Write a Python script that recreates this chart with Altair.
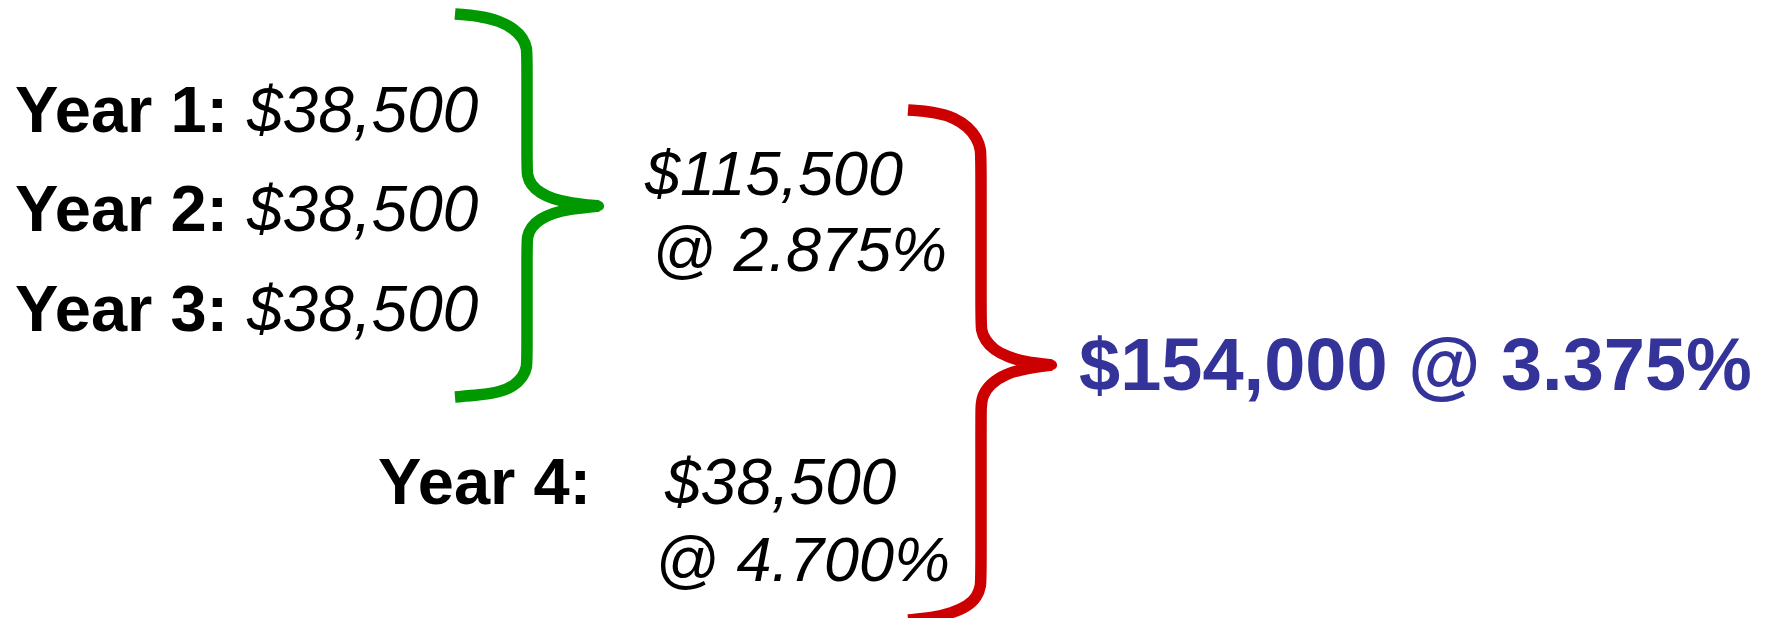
import altair as alt
import pandas as pd

# ---- text content (positions in picture pixels) ----
year_labels = ["Year 1:", "Year 2:", "Year 3:", "Year 4:"]
year_x = [15, 15, 15, 378]
year_y = [132, 231, 331, 504]

amounts = ["$38,500", "$38,500", "$38,500", "$38,500"]
amount_x = [247, 247, 247, 665]
amount_y = [132, 231, 331, 504]

sub_texts = ["$115,500", "@ 2.875%", "@ 4.700%"]
sub_x = [645, 652, 655]
sub_y = [195, 271, 581]

total_text = ["$154,000 @ 3.375%"]
total_x = [1079]
total_y = [390]

# ---- brace outlines (key points, picture pixels) ----
green_upper_x = [455, 480, 500, 514, 523, 527, 527, 527, 527, 531, 540, 553, 570, 599]
green_upper_y = [14, 16, 21, 29, 38, 48, 60, 165, 175, 185, 193, 199, 203, 206]
green_lower_x = [599, 570, 553, 540, 531, 527, 527, 527, 527, 523, 514, 500, 480, 455]
green_lower_y = [206, 209, 213, 219, 227, 237, 247, 357, 367, 377, 386, 392, 395, 397]

red_upper_x = [908, 935, 955, 968, 977, 981, 981, 981, 981, 985, 994, 1008, 1025, 1052]
red_upper_y = [110, 112, 118, 127, 138, 150, 162, 318, 330, 340, 350, 357, 362, 365]
red_lower_x = [1052, 1027, 1005, 990, 982, 981, 981, 981, 981, 977, 968, 952, 932, 908]
red_lower_y = [365, 368, 374, 384, 396, 408, 420, 574, 586, 597, 606, 613, 618, 620]

FONT = "Liberation Sans, Arial, Helvetica, sans-serif"
W, H = 1758, 610
xs = alt.Scale(domain=[8, 8 + W], nice=False, zero=False)
ys = alt.Scale(domain=[8, 8 + H], nice=False, zero=False, reverse=True)


def brace_frame(name, seg, xv, yv):
    return pd.DataFrame({"x": xv, "y": yv, "i": list(range(len(xv))),
                         "brace": name, "seg": seg})


brace_df = pd.concat([
    brace_frame("green", "g1", green_upper_x, green_upper_y),
    brace_frame("green", "g2", green_lower_x, green_lower_y),
    brace_frame("red", "r1", red_upper_x, red_upper_y),
    brace_frame("red", "r2", red_lower_x, red_lower_y),
], ignore_index=True)

tip_df = pd.DataFrame({"x": [green_upper_x[-1], red_upper_x[-1]],
                       "y": [green_upper_y[-1], red_upper_y[-1]],
                       "brace": ["green", "red"]})

color_scale = alt.Scale(domain=["green", "red"], range=["#009900", "#CC0000"])

braces = alt.Chart(brace_df).mark_line(
    strokeWidth=11.5, strokeCap="butt", strokeJoin="round", interpolate="basis"
).encode(
    x=alt.X("x:Q", scale=xs, axis=None),
    y=alt.Y("y:Q", scale=ys, axis=None),
    order=alt.Order("i:Q"),
    detail="seg:N",
    color=alt.Color("brace:N", scale=color_scale, legend=None),
)

tips = alt.Chart(tip_df).mark_circle(size=104, opacity=1).encode(
    x=alt.X("x:Q", scale=xs, axis=None),
    y=alt.Y("y:Q", scale=ys, axis=None),
    color=alt.Color("brace:N", scale=color_scale, legend=None),
)


def text_layer(texts, xv, yv, size, weight, style, color):
    df = pd.DataFrame({"t": texts, "x": xv, "y": yv})
    return alt.Chart(df).mark_text(
        align="left", baseline="alphabetic", font=FONT, fontSize=size,
        fontWeight=weight, fontStyle=style, color=color
    ).encode(
        x=alt.X("x:Q", scale=xs, axis=None),
        y=alt.Y("y:Q", scale=ys, axis=None),
        text="t:N",
    )


years = text_layer(year_labels, year_x, year_y, 65, "bold", "normal", "#000000")
amts = text_layer(amounts, amount_x, amount_y, 64, "normal", "italic", "#000000")
subs = text_layer(sub_texts, sub_x, sub_y, 63, "normal", "italic", "#000000")
total = text_layer(total_text, total_x, total_y, 74, "bold", "normal", "#333399")

chart = alt.layer(braces, tips, years, amts, subs, total).properties(
    width=W, height=H, autosize=alt.AutoSizeParams(type="none"), padding=0,
    background="#ffffff",
).configure_view(stroke=None)

chart.save("out.html", embed_options={"renderer": "svg", "actions": False})
